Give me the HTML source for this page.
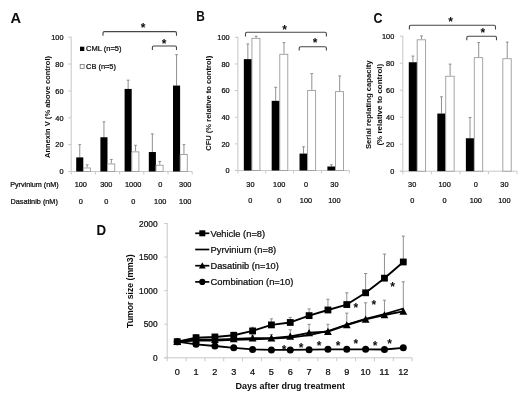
<!DOCTYPE html>
<html lang="en">
<head>
<meta charset="utf-8">
<title>Figure</title>
<style>
html,body{margin:0;padding:0;background:#fff;}
body{width:520px;height:405px;overflow:hidden;}
svg{display:block;font-family:'Liberation Sans', sans-serif;}
</style>
</head>
<body>
<svg width="520" height="405" viewBox="0 0 520 405">
<defs><filter id="soft" x="0" y="0" width="520" height="405" filterUnits="userSpaceOnUse"><feGaussianBlur stdDeviation="0.45"/></filter></defs>
<rect x="0" y="0" width="520" height="405" fill="#ffffff"/>
<g filter="url(#soft)">
<text x="10.50" y="22.90" font-size="15.5" text-anchor="start" font-weight="700" textLength="10.60" lengthAdjust="spacingAndGlyphs" fill="#0a0a0a">A</text>
<line x1="71.20" y1="36.70" x2="71.20" y2="172.00" stroke="#c8c8c8" stroke-width="1"/>
<line x1="68.20" y1="171.50" x2="192.20" y2="171.50" stroke="#c8c8c8" stroke-width="1"/>
<line x1="68.20" y1="171.50" x2="71.20" y2="171.50" stroke="#c8c8c8" stroke-width="1"/>
<text x="63.50" y="174.30" font-size="7.7" text-anchor="end" textLength="4.10" lengthAdjust="spacingAndGlyphs" fill="#0a0a0a" stroke="#0a0a0a" stroke-width="0.22">0</text>
<line x1="68.20" y1="144.64" x2="71.20" y2="144.64" stroke="#c8c8c8" stroke-width="1"/>
<text x="63.50" y="147.44" font-size="7.7" text-anchor="end" textLength="8.20" lengthAdjust="spacingAndGlyphs" fill="#0a0a0a" stroke="#0a0a0a" stroke-width="0.22">20</text>
<line x1="68.20" y1="117.78" x2="71.20" y2="117.78" stroke="#c8c8c8" stroke-width="1"/>
<text x="63.50" y="120.58" font-size="7.7" text-anchor="end" textLength="8.20" lengthAdjust="spacingAndGlyphs" fill="#0a0a0a" stroke="#0a0a0a" stroke-width="0.22">40</text>
<line x1="68.20" y1="90.92" x2="71.20" y2="90.92" stroke="#c8c8c8" stroke-width="1"/>
<text x="63.50" y="93.72" font-size="7.7" text-anchor="end" textLength="8.20" lengthAdjust="spacingAndGlyphs" fill="#0a0a0a" stroke="#0a0a0a" stroke-width="0.22">60</text>
<line x1="68.20" y1="64.06" x2="71.20" y2="64.06" stroke="#c8c8c8" stroke-width="1"/>
<text x="63.50" y="66.86" font-size="7.7" text-anchor="end" textLength="8.20" lengthAdjust="spacingAndGlyphs" fill="#0a0a0a" stroke="#0a0a0a" stroke-width="0.22">80</text>
<line x1="68.20" y1="37.20" x2="71.20" y2="37.20" stroke="#c8c8c8" stroke-width="1"/>
<text x="63.50" y="40.00" font-size="7.7" text-anchor="end" textLength="12.30" lengthAdjust="spacingAndGlyphs" fill="#0a0a0a" stroke="#0a0a0a" stroke-width="0.22">100</text>
<line x1="71.20" y1="171.50" x2="71.20" y2="174.50" stroke="#c8c8c8" stroke-width="1"/>
<line x1="95.40" y1="171.50" x2="95.40" y2="174.50" stroke="#c8c8c8" stroke-width="1"/>
<line x1="119.60" y1="171.50" x2="119.60" y2="174.50" stroke="#c8c8c8" stroke-width="1"/>
<line x1="143.80" y1="171.50" x2="143.80" y2="174.50" stroke="#c8c8c8" stroke-width="1"/>
<line x1="168.00" y1="171.50" x2="168.00" y2="174.50" stroke="#c8c8c8" stroke-width="1"/>
<line x1="192.20" y1="171.50" x2="192.20" y2="174.50" stroke="#c8c8c8" stroke-width="1"/>
<line x1="79.75" y1="157.40" x2="79.75" y2="144.64" stroke="#858585" stroke-width="0.9"/>
<line x1="78.35" y1="144.64" x2="81.15" y2="144.64" stroke="#858585" stroke-width="0.9"/>
<line x1="87.15" y1="167.47" x2="87.15" y2="164.78" stroke="#858585" stroke-width="0.9"/>
<line x1="85.75" y1="164.78" x2="88.55" y2="164.78" stroke="#858585" stroke-width="0.9"/>
<rect x="76.20" y="157.40" width="7.10" height="14.10" fill="#000"/>
<rect x="83.40" y="167.97" width="7.10" height="3.53" fill="#fff" stroke="#9c9c9c" stroke-width="0.9"/>
<line x1="103.95" y1="137.25" x2="103.95" y2="121.81" stroke="#858585" stroke-width="0.9"/>
<line x1="102.55" y1="121.81" x2="105.35" y2="121.81" stroke="#858585" stroke-width="0.9"/>
<line x1="111.35" y1="163.44" x2="111.35" y2="159.41" stroke="#858585" stroke-width="0.9"/>
<line x1="109.95" y1="159.41" x2="112.75" y2="159.41" stroke="#858585" stroke-width="0.9"/>
<rect x="100.40" y="137.25" width="7.10" height="34.25" fill="#000"/>
<rect x="107.60" y="163.94" width="7.10" height="7.56" fill="#fff" stroke="#9c9c9c" stroke-width="0.9"/>
<line x1="128.15" y1="88.91" x2="128.15" y2="80.18" stroke="#858585" stroke-width="0.9"/>
<line x1="126.75" y1="80.18" x2="129.55" y2="80.18" stroke="#858585" stroke-width="0.9"/>
<line x1="135.55" y1="151.35" x2="135.55" y2="145.31" stroke="#858585" stroke-width="0.9"/>
<line x1="134.15" y1="145.31" x2="136.95" y2="145.31" stroke="#858585" stroke-width="0.9"/>
<rect x="124.60" y="88.91" width="7.10" height="82.59" fill="#000"/>
<rect x="131.80" y="151.85" width="7.10" height="19.65" fill="#fff" stroke="#9c9c9c" stroke-width="0.9"/>
<line x1="152.35" y1="152.03" x2="152.35" y2="133.90" stroke="#858585" stroke-width="0.9"/>
<line x1="150.95" y1="133.90" x2="153.75" y2="133.90" stroke="#858585" stroke-width="0.9"/>
<line x1="159.75" y1="164.78" x2="159.75" y2="161.43" stroke="#858585" stroke-width="0.9"/>
<line x1="158.35" y1="161.43" x2="161.15" y2="161.43" stroke="#858585" stroke-width="0.9"/>
<rect x="148.80" y="152.03" width="7.10" height="19.47" fill="#000"/>
<rect x="156.00" y="165.28" width="7.10" height="6.22" fill="#fff" stroke="#9c9c9c" stroke-width="0.9"/>
<line x1="176.55" y1="85.55" x2="176.55" y2="54.66" stroke="#858585" stroke-width="0.9"/>
<line x1="175.15" y1="54.66" x2="177.95" y2="54.66" stroke="#858585" stroke-width="0.9"/>
<line x1="183.95" y1="154.04" x2="183.95" y2="144.64" stroke="#858585" stroke-width="0.9"/>
<line x1="182.55" y1="144.64" x2="185.35" y2="144.64" stroke="#858585" stroke-width="0.9"/>
<rect x="173.00" y="85.55" width="7.10" height="85.95" fill="#000"/>
<rect x="180.20" y="154.54" width="7.10" height="16.96" fill="#fff" stroke="#9c9c9c" stroke-width="0.9"/>
<text x="80.80" y="187.00" font-size="7.7" text-anchor="middle" textLength="12.30" lengthAdjust="spacingAndGlyphs" fill="#0a0a0a" stroke="#0a0a0a" stroke-width="0.22">100</text>
<text x="80.80" y="204.00" font-size="7.7" text-anchor="middle" textLength="4.10" lengthAdjust="spacingAndGlyphs" fill="#0a0a0a" stroke="#0a0a0a" stroke-width="0.22">0</text>
<text x="106.30" y="187.00" font-size="7.7" text-anchor="middle" textLength="12.30" lengthAdjust="spacingAndGlyphs" fill="#0a0a0a" stroke="#0a0a0a" stroke-width="0.22">300</text>
<text x="106.30" y="204.00" font-size="7.7" text-anchor="middle" textLength="4.10" lengthAdjust="spacingAndGlyphs" fill="#0a0a0a" stroke="#0a0a0a" stroke-width="0.22">0</text>
<text x="133.20" y="187.00" font-size="7.7" text-anchor="middle" textLength="16.40" lengthAdjust="spacingAndGlyphs" fill="#0a0a0a" stroke="#0a0a0a" stroke-width="0.22">1000</text>
<text x="133.20" y="204.00" font-size="7.7" text-anchor="middle" textLength="4.10" lengthAdjust="spacingAndGlyphs" fill="#0a0a0a" stroke="#0a0a0a" stroke-width="0.22">0</text>
<text x="160.20" y="187.00" font-size="7.7" text-anchor="middle" textLength="4.10" lengthAdjust="spacingAndGlyphs" fill="#0a0a0a" stroke="#0a0a0a" stroke-width="0.22">0</text>
<text x="160.20" y="204.00" font-size="7.7" text-anchor="middle" textLength="12.30" lengthAdjust="spacingAndGlyphs" fill="#0a0a0a" stroke="#0a0a0a" stroke-width="0.22">100</text>
<text x="185.20" y="187.00" font-size="7.7" text-anchor="middle" textLength="12.30" lengthAdjust="spacingAndGlyphs" fill="#0a0a0a" stroke="#0a0a0a" stroke-width="0.22">300</text>
<text x="185.20" y="204.00" font-size="7.7" text-anchor="middle" textLength="12.30" lengthAdjust="spacingAndGlyphs" fill="#0a0a0a" stroke="#0a0a0a" stroke-width="0.22">100</text>
<text x="10.20" y="186.90" font-size="7.7" text-anchor="start" textLength="48.50" lengthAdjust="spacingAndGlyphs" fill="#0a0a0a" stroke="#0a0a0a" stroke-width="0.22">Pyrvinium (nM)</text>
<text x="10.40" y="203.90" font-size="7.7" text-anchor="start" textLength="47.50" lengthAdjust="spacingAndGlyphs" fill="#0a0a0a" stroke="#0a0a0a" stroke-width="0.22">Dasatinib (nM)</text>
<rect x="80.00" y="46.70" width="4.30" height="4.30" fill="#000"/>
<text x="86.00" y="51.40" font-size="7.7" text-anchor="start" textLength="35.50" lengthAdjust="spacingAndGlyphs" fill="#0a0a0a" stroke="#0a0a0a" stroke-width="0.22">CML (n=5)</text>
<rect x="80.20" y="64.50" width="3.90" height="3.90" fill="#fff" stroke="#777" stroke-width="0.8"/>
<text x="86.00" y="69.00" font-size="7.7" text-anchor="start" textLength="30.00" lengthAdjust="spacingAndGlyphs" fill="#0a0a0a" stroke="#0a0a0a" stroke-width="0.22">CB (n=5)</text>
<text x="50.00" y="107.00" font-size="7.2" text-anchor="middle" font-weight="700" textLength="102.00" lengthAdjust="spacingAndGlyphs" transform="rotate(-90 50.00 107.00)" fill="#0a0a0a">Annexin V (% above control)</text>
<path d="M103.00 35.80 V33.10 Q103.00 31.60 104.50 31.60 H175.00 Q176.50 31.60 176.50 33.10 V35.80" fill="none" stroke="#444" stroke-width="1.1"/>
<text x="143.00" y="32.00" font-size="12" text-anchor="middle" font-weight="700" fill="#0a0a0a">*</text>
<path d="M152.40 50.00 V47.50 Q152.40 46.00 153.90 46.00 H175.00 Q176.50 46.00 176.50 47.50 V50.00" fill="none" stroke="#444" stroke-width="1.1"/>
<text x="164.00" y="47.50" font-size="12" text-anchor="middle" font-weight="700" fill="#0a0a0a">*</text>
<text x="196.30" y="20.80" font-size="15" text-anchor="start" font-weight="700" textLength="8.60" lengthAdjust="spacingAndGlyphs" fill="#0a0a0a">B</text>
<line x1="237.90" y1="36.80" x2="237.90" y2="171.00" stroke="#c8c8c8" stroke-width="1"/>
<line x1="234.90" y1="170.50" x2="349.30" y2="170.50" stroke="#c8c8c8" stroke-width="1"/>
<line x1="234.90" y1="170.50" x2="237.90" y2="170.50" stroke="#c8c8c8" stroke-width="1"/>
<text x="229.60" y="173.30" font-size="7.7" text-anchor="end" textLength="4.10" lengthAdjust="spacingAndGlyphs" fill="#0a0a0a" stroke="#0a0a0a" stroke-width="0.22">0</text>
<line x1="234.90" y1="143.86" x2="237.90" y2="143.86" stroke="#c8c8c8" stroke-width="1"/>
<text x="229.60" y="146.66" font-size="7.7" text-anchor="end" textLength="8.20" lengthAdjust="spacingAndGlyphs" fill="#0a0a0a" stroke="#0a0a0a" stroke-width="0.22">20</text>
<line x1="234.90" y1="117.22" x2="237.90" y2="117.22" stroke="#c8c8c8" stroke-width="1"/>
<text x="229.60" y="120.02" font-size="7.7" text-anchor="end" textLength="8.20" lengthAdjust="spacingAndGlyphs" fill="#0a0a0a" stroke="#0a0a0a" stroke-width="0.22">40</text>
<line x1="234.90" y1="90.58" x2="237.90" y2="90.58" stroke="#c8c8c8" stroke-width="1"/>
<text x="229.60" y="93.38" font-size="7.7" text-anchor="end" textLength="8.20" lengthAdjust="spacingAndGlyphs" fill="#0a0a0a" stroke="#0a0a0a" stroke-width="0.22">60</text>
<line x1="234.90" y1="63.94" x2="237.90" y2="63.94" stroke="#c8c8c8" stroke-width="1"/>
<text x="229.60" y="66.74" font-size="7.7" text-anchor="end" textLength="8.20" lengthAdjust="spacingAndGlyphs" fill="#0a0a0a" stroke="#0a0a0a" stroke-width="0.22">80</text>
<line x1="234.90" y1="37.30" x2="237.90" y2="37.30" stroke="#c8c8c8" stroke-width="1"/>
<text x="229.60" y="40.10" font-size="7.7" text-anchor="end" textLength="12.30" lengthAdjust="spacingAndGlyphs" fill="#0a0a0a" stroke="#0a0a0a" stroke-width="0.22">100</text>
<line x1="237.90" y1="170.50" x2="237.90" y2="173.50" stroke="#c8c8c8" stroke-width="1"/>
<line x1="265.75" y1="170.50" x2="265.75" y2="173.50" stroke="#c8c8c8" stroke-width="1"/>
<line x1="293.60" y1="170.50" x2="293.60" y2="173.50" stroke="#c8c8c8" stroke-width="1"/>
<line x1="321.45" y1="170.50" x2="321.45" y2="173.50" stroke="#c8c8c8" stroke-width="1"/>
<line x1="349.30" y1="170.50" x2="349.30" y2="173.50" stroke="#c8c8c8" stroke-width="1"/>
<line x1="247.83" y1="59.14" x2="247.83" y2="43.96" stroke="#858585" stroke-width="0.9"/>
<line x1="246.43" y1="43.96" x2="249.23" y2="43.96" stroke="#858585" stroke-width="0.9"/>
<line x1="256.12" y1="37.83" x2="256.12" y2="36.23" stroke="#858585" stroke-width="0.9"/>
<line x1="254.72" y1="36.23" x2="257.52" y2="36.23" stroke="#858585" stroke-width="0.9"/>
<rect x="243.83" y="59.14" width="8.00" height="111.36" fill="#000"/>
<rect x="251.93" y="38.33" width="8.00" height="132.17" fill="#fff" stroke="#9c9c9c" stroke-width="0.9"/>
<line x1="275.68" y1="100.84" x2="275.68" y2="87.25" stroke="#858585" stroke-width="0.9"/>
<line x1="274.28" y1="87.25" x2="277.07" y2="87.25" stroke="#858585" stroke-width="0.9"/>
<line x1="283.98" y1="53.82" x2="283.98" y2="42.63" stroke="#858585" stroke-width="0.9"/>
<line x1="282.58" y1="42.63" x2="285.38" y2="42.63" stroke="#858585" stroke-width="0.9"/>
<rect x="271.68" y="100.84" width="8.00" height="69.66" fill="#000"/>
<rect x="279.78" y="54.32" width="8.00" height="116.18" fill="#fff" stroke="#9c9c9c" stroke-width="0.9"/>
<line x1="303.52" y1="153.58" x2="303.52" y2="146.79" stroke="#858585" stroke-width="0.9"/>
<line x1="302.12" y1="146.79" x2="304.92" y2="146.79" stroke="#858585" stroke-width="0.9"/>
<line x1="311.82" y1="89.91" x2="311.82" y2="73.66" stroke="#858585" stroke-width="0.9"/>
<line x1="310.43" y1="73.66" x2="313.22" y2="73.66" stroke="#858585" stroke-width="0.9"/>
<rect x="299.52" y="153.58" width="8.00" height="16.92" fill="#000"/>
<rect x="307.62" y="90.41" width="8.00" height="80.09" fill="#fff" stroke="#9c9c9c" stroke-width="0.9"/>
<line x1="331.38" y1="166.50" x2="331.38" y2="164.77" stroke="#858585" stroke-width="0.9"/>
<line x1="329.98" y1="164.77" x2="332.77" y2="164.77" stroke="#858585" stroke-width="0.9"/>
<line x1="339.68" y1="91.11" x2="339.68" y2="75.93" stroke="#858585" stroke-width="0.9"/>
<line x1="338.28" y1="75.93" x2="341.07" y2="75.93" stroke="#858585" stroke-width="0.9"/>
<rect x="327.38" y="166.50" width="8.00" height="4.00" fill="#000"/>
<rect x="335.48" y="91.61" width="8.00" height="78.89" fill="#fff" stroke="#9c9c9c" stroke-width="0.9"/>
<text x="250.40" y="187.40" font-size="7.7" text-anchor="middle" textLength="8.20" lengthAdjust="spacingAndGlyphs" fill="#0a0a0a" stroke="#0a0a0a" stroke-width="0.22">30</text>
<text x="250.40" y="203.30" font-size="7.7" text-anchor="middle" textLength="4.10" lengthAdjust="spacingAndGlyphs" fill="#0a0a0a" stroke="#0a0a0a" stroke-width="0.22">0</text>
<text x="279.20" y="187.40" font-size="7.7" text-anchor="middle" textLength="12.30" lengthAdjust="spacingAndGlyphs" fill="#0a0a0a" stroke="#0a0a0a" stroke-width="0.22">100</text>
<text x="279.20" y="203.30" font-size="7.7" text-anchor="middle" textLength="4.10" lengthAdjust="spacingAndGlyphs" fill="#0a0a0a" stroke="#0a0a0a" stroke-width="0.22">0</text>
<text x="306.00" y="187.40" font-size="7.7" text-anchor="middle" textLength="4.10" lengthAdjust="spacingAndGlyphs" fill="#0a0a0a" stroke="#0a0a0a" stroke-width="0.22">0</text>
<text x="306.00" y="203.30" font-size="7.7" text-anchor="middle" textLength="12.30" lengthAdjust="spacingAndGlyphs" fill="#0a0a0a" stroke="#0a0a0a" stroke-width="0.22">100</text>
<text x="334.40" y="187.40" font-size="7.7" text-anchor="middle" textLength="8.20" lengthAdjust="spacingAndGlyphs" fill="#0a0a0a" stroke="#0a0a0a" stroke-width="0.22">30</text>
<text x="334.40" y="203.30" font-size="7.7" text-anchor="middle" textLength="12.30" lengthAdjust="spacingAndGlyphs" fill="#0a0a0a" stroke="#0a0a0a" stroke-width="0.22">100</text>
<text x="211.40" y="103.30" font-size="7.2" text-anchor="middle" font-weight="700" textLength="95.00" lengthAdjust="spacingAndGlyphs" transform="rotate(-90 211.40 103.30)" fill="#0a0a0a">CFU (% relative to control)</text>
<path d="M245.50 36.40 V33.70 Q245.50 32.20 247.00 32.20 H324.90 Q326.40 32.20 326.40 33.70 V36.40" fill="none" stroke="#444" stroke-width="1.1"/>
<text x="284.60" y="33.50" font-size="12" text-anchor="middle" font-weight="700" fill="#0a0a0a">*</text>
<path d="M299.20 50.60 V48.20 Q299.20 46.70 300.70 46.70 H324.90 Q326.40 46.70 326.40 48.20 V50.60" fill="none" stroke="#444" stroke-width="1.1"/>
<text x="315.20" y="46.80" font-size="12" text-anchor="middle" font-weight="700" fill="#0a0a0a">*</text>
<text x="373.60" y="23.00" font-size="15" text-anchor="start" font-weight="700" textLength="9.00" lengthAdjust="spacingAndGlyphs" fill="#0a0a0a">C</text>
<line x1="402.80" y1="35.70" x2="402.80" y2="171.70" stroke="#c8c8c8" stroke-width="1"/>
<line x1="399.80" y1="171.20" x2="517.00" y2="171.20" stroke="#c8c8c8" stroke-width="1"/>
<line x1="399.80" y1="171.20" x2="402.80" y2="171.20" stroke="#c8c8c8" stroke-width="1"/>
<text x="394.30" y="174.00" font-size="7.7" text-anchor="end" textLength="4.10" lengthAdjust="spacingAndGlyphs" fill="#0a0a0a" stroke="#0a0a0a" stroke-width="0.22">0</text>
<line x1="399.80" y1="144.20" x2="402.80" y2="144.20" stroke="#c8c8c8" stroke-width="1"/>
<text x="394.30" y="147.00" font-size="7.7" text-anchor="end" textLength="8.20" lengthAdjust="spacingAndGlyphs" fill="#0a0a0a" stroke="#0a0a0a" stroke-width="0.22">20</text>
<line x1="399.80" y1="117.20" x2="402.80" y2="117.20" stroke="#c8c8c8" stroke-width="1"/>
<text x="394.30" y="120.00" font-size="7.7" text-anchor="end" textLength="8.20" lengthAdjust="spacingAndGlyphs" fill="#0a0a0a" stroke="#0a0a0a" stroke-width="0.22">40</text>
<line x1="399.80" y1="90.20" x2="402.80" y2="90.20" stroke="#c8c8c8" stroke-width="1"/>
<text x="394.30" y="93.00" font-size="7.7" text-anchor="end" textLength="8.20" lengthAdjust="spacingAndGlyphs" fill="#0a0a0a" stroke="#0a0a0a" stroke-width="0.22">60</text>
<line x1="399.80" y1="63.20" x2="402.80" y2="63.20" stroke="#c8c8c8" stroke-width="1"/>
<text x="394.30" y="66.00" font-size="7.7" text-anchor="end" textLength="8.20" lengthAdjust="spacingAndGlyphs" fill="#0a0a0a" stroke="#0a0a0a" stroke-width="0.22">80</text>
<line x1="399.80" y1="36.20" x2="402.80" y2="36.20" stroke="#c8c8c8" stroke-width="1"/>
<text x="394.30" y="39.00" font-size="7.7" text-anchor="end" textLength="12.30" lengthAdjust="spacingAndGlyphs" fill="#0a0a0a" stroke="#0a0a0a" stroke-width="0.22">100</text>
<line x1="402.80" y1="171.20" x2="402.80" y2="174.20" stroke="#c8c8c8" stroke-width="1"/>
<line x1="431.35" y1="171.20" x2="431.35" y2="174.20" stroke="#c8c8c8" stroke-width="1"/>
<line x1="459.90" y1="171.20" x2="459.90" y2="174.20" stroke="#c8c8c8" stroke-width="1"/>
<line x1="488.45" y1="171.20" x2="488.45" y2="174.20" stroke="#c8c8c8" stroke-width="1"/>
<line x1="517.00" y1="171.20" x2="517.00" y2="174.20" stroke="#c8c8c8" stroke-width="1"/>
<line x1="412.93" y1="62.25" x2="412.93" y2="56.04" stroke="#858585" stroke-width="0.9"/>
<line x1="411.53" y1="56.04" x2="414.32" y2="56.04" stroke="#858585" stroke-width="0.9"/>
<line x1="421.57" y1="39.30" x2="421.57" y2="35.93" stroke="#858585" stroke-width="0.9"/>
<line x1="420.18" y1="35.93" x2="422.97" y2="35.93" stroke="#858585" stroke-width="0.9"/>
<rect x="408.77" y="62.25" width="8.30" height="108.95" fill="#000"/>
<rect x="417.18" y="39.80" width="8.40" height="131.40" fill="#fff" stroke="#9c9c9c" stroke-width="0.9"/>
<line x1="441.48" y1="113.55" x2="441.48" y2="96.81" stroke="#858585" stroke-width="0.9"/>
<line x1="440.08" y1="96.81" x2="442.88" y2="96.81" stroke="#858585" stroke-width="0.9"/>
<line x1="450.12" y1="75.75" x2="450.12" y2="64.14" stroke="#858585" stroke-width="0.9"/>
<line x1="448.73" y1="64.14" x2="451.52" y2="64.14" stroke="#858585" stroke-width="0.9"/>
<rect x="437.32" y="113.55" width="8.30" height="57.65" fill="#000"/>
<rect x="445.73" y="76.25" width="8.40" height="94.95" fill="#fff" stroke="#9c9c9c" stroke-width="0.9"/>
<line x1="470.03" y1="138.26" x2="470.03" y2="117.47" stroke="#858585" stroke-width="0.9"/>
<line x1="468.63" y1="117.47" x2="471.43" y2="117.47" stroke="#858585" stroke-width="0.9"/>
<line x1="478.68" y1="57.12" x2="478.68" y2="42.54" stroke="#858585" stroke-width="0.9"/>
<line x1="477.28" y1="42.54" x2="480.07" y2="42.54" stroke="#858585" stroke-width="0.9"/>
<rect x="465.88" y="138.26" width="8.30" height="32.94" fill="#000"/>
<rect x="474.28" y="57.62" width="8.40" height="113.58" fill="#fff" stroke="#9c9c9c" stroke-width="0.9"/>
<line x1="507.23" y1="58.20" x2="507.23" y2="42.14" stroke="#858585" stroke-width="0.9"/>
<line x1="505.83" y1="42.14" x2="508.62" y2="42.14" stroke="#858585" stroke-width="0.9"/>
<rect x="502.83" y="58.70" width="8.40" height="112.50" fill="#fff" stroke="#9c9c9c" stroke-width="0.9"/>
<text x="412.20" y="187.00" font-size="7.7" text-anchor="middle" textLength="8.20" lengthAdjust="spacingAndGlyphs" fill="#0a0a0a" stroke="#0a0a0a" stroke-width="0.22">30</text>
<text x="412.20" y="202.70" font-size="7.7" text-anchor="middle" textLength="4.10" lengthAdjust="spacingAndGlyphs" fill="#0a0a0a" stroke="#0a0a0a" stroke-width="0.22">0</text>
<text x="444.60" y="187.00" font-size="7.7" text-anchor="middle" textLength="12.30" lengthAdjust="spacingAndGlyphs" fill="#0a0a0a" stroke="#0a0a0a" stroke-width="0.22">100</text>
<text x="444.60" y="202.70" font-size="7.7" text-anchor="middle" textLength="4.10" lengthAdjust="spacingAndGlyphs" fill="#0a0a0a" stroke="#0a0a0a" stroke-width="0.22">0</text>
<text x="475.80" y="187.00" font-size="7.7" text-anchor="middle" textLength="4.10" lengthAdjust="spacingAndGlyphs" fill="#0a0a0a" stroke="#0a0a0a" stroke-width="0.22">0</text>
<text x="475.80" y="202.70" font-size="7.7" text-anchor="middle" textLength="12.30" lengthAdjust="spacingAndGlyphs" fill="#0a0a0a" stroke="#0a0a0a" stroke-width="0.22">100</text>
<text x="504.40" y="187.00" font-size="7.7" text-anchor="middle" textLength="8.20" lengthAdjust="spacingAndGlyphs" fill="#0a0a0a" stroke="#0a0a0a" stroke-width="0.22">30</text>
<text x="504.40" y="202.70" font-size="7.7" text-anchor="middle" textLength="12.30" lengthAdjust="spacingAndGlyphs" fill="#0a0a0a" stroke="#0a0a0a" stroke-width="0.22">100</text>
<text x="370.80" y="104.70" font-size="7.2" text-anchor="middle" font-weight="700" textLength="88.70" lengthAdjust="spacingAndGlyphs" transform="rotate(-90 370.80 104.70)" fill="#0a0a0a">Serial replating capacity</text>
<text x="381.60" y="104.70" font-size="7.2" text-anchor="middle" font-weight="700" textLength="81.70" lengthAdjust="spacingAndGlyphs" transform="rotate(-90 381.60 104.70)" fill="#0a0a0a">(% relative  to control)</text>
<path d="M409.40 29.40 V26.80 Q409.40 25.30 410.90 25.30 H494.00 Q495.50 25.30 495.50 26.80 V29.40" fill="none" stroke="#444" stroke-width="1.1"/>
<text x="450.50" y="25.90" font-size="12" text-anchor="middle" font-weight="700" fill="#0a0a0a">*</text>
<path d="M466.80 40.20 V37.70 Q466.80 36.20 468.30 36.20 H495.00 Q496.50 36.20 496.50 37.70 V40.20" fill="none" stroke="#444" stroke-width="1.1"/>
<text x="482.80" y="37.20" font-size="12" text-anchor="middle" font-weight="700" fill="#0a0a0a">*</text>
<text x="96.60" y="235.00" font-size="15" text-anchor="start" font-weight="700" textLength="9.60" lengthAdjust="spacingAndGlyphs" fill="#0a0a0a">D</text>
<line x1="167.20" y1="223.00" x2="167.20" y2="358.30" stroke="#c8c8c8" stroke-width="1"/>
<line x1="164.20" y1="357.80" x2="412.12" y2="357.80" stroke="#c8c8c8" stroke-width="1"/>
<line x1="164.20" y1="357.80" x2="167.20" y2="357.80" stroke="#c8c8c8" stroke-width="1"/>
<text x="157.60" y="361.00" font-size="8.8" text-anchor="end" textLength="4.65" lengthAdjust="spacingAndGlyphs" fill="#0a0a0a" stroke="#0a0a0a" stroke-width="0.22">0</text>
<line x1="164.20" y1="324.23" x2="167.20" y2="324.23" stroke="#c8c8c8" stroke-width="1"/>
<text x="157.60" y="327.43" font-size="8.8" text-anchor="end" textLength="13.95" lengthAdjust="spacingAndGlyphs" fill="#0a0a0a" stroke="#0a0a0a" stroke-width="0.22">500</text>
<line x1="164.20" y1="290.65" x2="167.20" y2="290.65" stroke="#c8c8c8" stroke-width="1"/>
<text x="157.60" y="293.85" font-size="8.8" text-anchor="end" textLength="18.60" lengthAdjust="spacingAndGlyphs" fill="#0a0a0a" stroke="#0a0a0a" stroke-width="0.22">1000</text>
<line x1="164.20" y1="257.07" x2="167.20" y2="257.07" stroke="#c8c8c8" stroke-width="1"/>
<text x="157.60" y="260.27" font-size="8.8" text-anchor="end" textLength="18.60" lengthAdjust="spacingAndGlyphs" fill="#0a0a0a" stroke="#0a0a0a" stroke-width="0.22">1500</text>
<line x1="164.20" y1="223.50" x2="167.20" y2="223.50" stroke="#c8c8c8" stroke-width="1"/>
<text x="157.60" y="226.70" font-size="8.8" text-anchor="end" textLength="18.60" lengthAdjust="spacingAndGlyphs" fill="#0a0a0a" stroke="#0a0a0a" stroke-width="0.22">2000</text>
<line x1="167.20" y1="357.80" x2="167.20" y2="361.30" stroke="#c8c8c8" stroke-width="1"/>
<line x1="186.04" y1="357.80" x2="186.04" y2="361.30" stroke="#c8c8c8" stroke-width="1"/>
<line x1="204.88" y1="357.80" x2="204.88" y2="361.30" stroke="#c8c8c8" stroke-width="1"/>
<line x1="223.72" y1="357.80" x2="223.72" y2="361.30" stroke="#c8c8c8" stroke-width="1"/>
<line x1="242.56" y1="357.80" x2="242.56" y2="361.30" stroke="#c8c8c8" stroke-width="1"/>
<line x1="261.40" y1="357.80" x2="261.40" y2="361.30" stroke="#c8c8c8" stroke-width="1"/>
<line x1="280.24" y1="357.80" x2="280.24" y2="361.30" stroke="#c8c8c8" stroke-width="1"/>
<line x1="299.08" y1="357.80" x2="299.08" y2="361.30" stroke="#c8c8c8" stroke-width="1"/>
<line x1="317.92" y1="357.80" x2="317.92" y2="361.30" stroke="#c8c8c8" stroke-width="1"/>
<line x1="336.76" y1="357.80" x2="336.76" y2="361.30" stroke="#c8c8c8" stroke-width="1"/>
<line x1="355.60" y1="357.80" x2="355.60" y2="361.30" stroke="#c8c8c8" stroke-width="1"/>
<line x1="374.44" y1="357.80" x2="374.44" y2="361.30" stroke="#c8c8c8" stroke-width="1"/>
<line x1="393.28" y1="357.80" x2="393.28" y2="361.30" stroke="#c8c8c8" stroke-width="1"/>
<line x1="412.12" y1="357.80" x2="412.12" y2="361.30" stroke="#c8c8c8" stroke-width="1"/>
<text x="177.22" y="374.70" font-size="9.5" text-anchor="middle" textLength="5.10" lengthAdjust="spacingAndGlyphs" fill="#0a0a0a" stroke="#0a0a0a" stroke-width="0.22">0</text>
<text x="196.06" y="374.70" font-size="9.5" text-anchor="middle" textLength="5.10" lengthAdjust="spacingAndGlyphs" fill="#0a0a0a" stroke="#0a0a0a" stroke-width="0.22">1</text>
<text x="214.90" y="374.70" font-size="9.5" text-anchor="middle" textLength="5.10" lengthAdjust="spacingAndGlyphs" fill="#0a0a0a" stroke="#0a0a0a" stroke-width="0.22">2</text>
<text x="233.74" y="374.70" font-size="9.5" text-anchor="middle" textLength="5.10" lengthAdjust="spacingAndGlyphs" fill="#0a0a0a" stroke="#0a0a0a" stroke-width="0.22">3</text>
<text x="252.58" y="374.70" font-size="9.5" text-anchor="middle" textLength="5.10" lengthAdjust="spacingAndGlyphs" fill="#0a0a0a" stroke="#0a0a0a" stroke-width="0.22">4</text>
<text x="271.42" y="374.70" font-size="9.5" text-anchor="middle" textLength="5.10" lengthAdjust="spacingAndGlyphs" fill="#0a0a0a" stroke="#0a0a0a" stroke-width="0.22">5</text>
<text x="290.26" y="374.70" font-size="9.5" text-anchor="middle" textLength="5.10" lengthAdjust="spacingAndGlyphs" fill="#0a0a0a" stroke="#0a0a0a" stroke-width="0.22">6</text>
<text x="309.10" y="374.70" font-size="9.5" text-anchor="middle" textLength="5.10" lengthAdjust="spacingAndGlyphs" fill="#0a0a0a" stroke="#0a0a0a" stroke-width="0.22">7</text>
<text x="327.94" y="374.70" font-size="9.5" text-anchor="middle" textLength="5.10" lengthAdjust="spacingAndGlyphs" fill="#0a0a0a" stroke="#0a0a0a" stroke-width="0.22">8</text>
<text x="346.78" y="374.70" font-size="9.5" text-anchor="middle" textLength="5.10" lengthAdjust="spacingAndGlyphs" fill="#0a0a0a" stroke="#0a0a0a" stroke-width="0.22">9</text>
<text x="365.62" y="374.70" font-size="9.5" text-anchor="middle" textLength="10.20" lengthAdjust="spacingAndGlyphs" fill="#0a0a0a" stroke="#0a0a0a" stroke-width="0.22">10</text>
<text x="384.46" y="374.70" font-size="9.5" text-anchor="middle" textLength="10.20" lengthAdjust="spacingAndGlyphs" fill="#0a0a0a" stroke="#0a0a0a" stroke-width="0.22">11</text>
<text x="403.30" y="374.70" font-size="9.5" text-anchor="middle" textLength="10.20" lengthAdjust="spacingAndGlyphs" fill="#0a0a0a" stroke="#0a0a0a" stroke-width="0.22">12</text>
<line x1="196.06" y1="337.66" x2="196.06" y2="334.63" stroke="#858585" stroke-width="0.9"/>
<line x1="194.46" y1="334.63" x2="197.66" y2="334.63" stroke="#858585" stroke-width="0.9"/>
<line x1="196.06" y1="339.54" x2="196.06" y2="337.52" stroke="#858585" stroke-width="0.9"/>
<line x1="194.46" y1="337.52" x2="197.66" y2="337.52" stroke="#858585" stroke-width="0.9"/>
<line x1="214.90" y1="336.98" x2="214.90" y2="334.30" stroke="#858585" stroke-width="0.9"/>
<line x1="213.30" y1="334.30" x2="216.50" y2="334.30" stroke="#858585" stroke-width="0.9"/>
<line x1="214.90" y1="339.80" x2="214.90" y2="337.79" stroke="#858585" stroke-width="0.9"/>
<line x1="213.30" y1="337.79" x2="216.50" y2="337.79" stroke="#858585" stroke-width="0.9"/>
<line x1="233.74" y1="335.30" x2="233.74" y2="332.28" stroke="#858585" stroke-width="0.9"/>
<line x1="232.14" y1="332.28" x2="235.34" y2="332.28" stroke="#858585" stroke-width="0.9"/>
<line x1="233.74" y1="339.00" x2="233.74" y2="336.31" stroke="#858585" stroke-width="0.9"/>
<line x1="232.14" y1="336.31" x2="235.34" y2="336.31" stroke="#858585" stroke-width="0.9"/>
<line x1="252.58" y1="330.94" x2="252.58" y2="327.25" stroke="#858585" stroke-width="0.9"/>
<line x1="250.98" y1="327.25" x2="254.18" y2="327.25" stroke="#858585" stroke-width="0.9"/>
<line x1="252.58" y1="338.19" x2="252.58" y2="335.17" stroke="#858585" stroke-width="0.9"/>
<line x1="250.98" y1="335.17" x2="254.18" y2="335.17" stroke="#858585" stroke-width="0.9"/>
<line x1="271.42" y1="324.90" x2="271.42" y2="318.85" stroke="#858585" stroke-width="0.9"/>
<line x1="269.82" y1="318.85" x2="273.02" y2="318.85" stroke="#858585" stroke-width="0.9"/>
<line x1="271.42" y1="338.19" x2="271.42" y2="334.50" stroke="#858585" stroke-width="0.9"/>
<line x1="269.82" y1="334.50" x2="273.02" y2="334.50" stroke="#858585" stroke-width="0.9"/>
<line x1="290.26" y1="322.48" x2="290.26" y2="317.44" stroke="#858585" stroke-width="0.9"/>
<line x1="288.66" y1="317.44" x2="291.86" y2="317.44" stroke="#858585" stroke-width="0.9"/>
<line x1="290.26" y1="336.51" x2="290.26" y2="329.80" stroke="#858585" stroke-width="0.9"/>
<line x1="288.66" y1="329.80" x2="291.86" y2="329.80" stroke="#858585" stroke-width="0.9"/>
<line x1="309.10" y1="315.63" x2="309.10" y2="308.91" stroke="#858585" stroke-width="0.9"/>
<line x1="307.50" y1="308.91" x2="310.70" y2="308.91" stroke="#858585" stroke-width="0.9"/>
<line x1="309.10" y1="332.82" x2="309.10" y2="324.36" stroke="#858585" stroke-width="0.9"/>
<line x1="307.50" y1="324.36" x2="310.70" y2="324.36" stroke="#858585" stroke-width="0.9"/>
<line x1="327.94" y1="309.99" x2="327.94" y2="299.25" stroke="#858585" stroke-width="0.9"/>
<line x1="326.34" y1="299.25" x2="329.54" y2="299.25" stroke="#858585" stroke-width="0.9"/>
<line x1="327.94" y1="331.68" x2="327.94" y2="324.29" stroke="#858585" stroke-width="0.9"/>
<line x1="326.34" y1="324.29" x2="329.54" y2="324.29" stroke="#858585" stroke-width="0.9"/>
<line x1="346.78" y1="304.55" x2="346.78" y2="292.80" stroke="#858585" stroke-width="0.9"/>
<line x1="345.18" y1="292.80" x2="348.38" y2="292.80" stroke="#858585" stroke-width="0.9"/>
<line x1="346.78" y1="325.03" x2="346.78" y2="313.15" stroke="#858585" stroke-width="0.9"/>
<line x1="345.18" y1="313.15" x2="348.38" y2="313.15" stroke="#858585" stroke-width="0.9"/>
<line x1="365.62" y1="292.80" x2="365.62" y2="273.53" stroke="#858585" stroke-width="0.9"/>
<line x1="364.02" y1="273.53" x2="367.22" y2="273.53" stroke="#858585" stroke-width="0.9"/>
<line x1="365.62" y1="319.39" x2="365.62" y2="302.80" stroke="#858585" stroke-width="0.9"/>
<line x1="364.02" y1="302.80" x2="367.22" y2="302.80" stroke="#858585" stroke-width="0.9"/>
<line x1="384.46" y1="278.16" x2="384.46" y2="254.05" stroke="#858585" stroke-width="0.9"/>
<line x1="382.86" y1="254.05" x2="386.06" y2="254.05" stroke="#858585" stroke-width="0.9"/>
<line x1="384.46" y1="315.03" x2="384.46" y2="300.25" stroke="#858585" stroke-width="0.9"/>
<line x1="382.86" y1="300.25" x2="386.06" y2="300.25" stroke="#858585" stroke-width="0.9"/>
<line x1="403.30" y1="261.98" x2="403.30" y2="236.12" stroke="#858585" stroke-width="0.9"/>
<line x1="401.70" y1="236.12" x2="404.90" y2="236.12" stroke="#858585" stroke-width="0.9"/>
<line x1="403.30" y1="311.33" x2="403.30" y2="281.79" stroke="#858585" stroke-width="0.9"/>
<line x1="401.70" y1="281.79" x2="404.90" y2="281.79" stroke="#858585" stroke-width="0.9"/>
<polyline points="177.22,341.68 196.06,340.68 214.90,340.68 233.74,340.01 252.58,339.33 271.42,338.66 290.26,337.66 309.10,335.10 327.94,330.94 346.78,324.56 365.62,318.85 384.46,314.15 403.30,308.44" fill="none" stroke="#000" stroke-width="1.7" stroke-linejoin="round"/>
<polyline points="177.22,341.68 196.06,339.54 214.90,339.80 233.74,339.00 252.58,338.19 271.42,338.19 290.26,336.51 309.10,332.82 327.94,331.68 346.78,325.03 365.62,319.39 384.46,315.03 403.30,311.33" fill="none" stroke="#000" stroke-width="1.9" stroke-linejoin="round"/>
<polyline points="177.22,341.68 196.06,337.66 214.90,336.98 233.74,335.30 252.58,330.94 271.42,324.90 290.26,322.48 309.10,315.63 327.94,309.99 346.78,304.55 365.62,292.80 384.46,278.16 403.30,261.98" fill="none" stroke="#000" stroke-width="1.9" stroke-linejoin="round"/>
<polyline points="177.22,341.68 196.06,344.37 214.90,345.98 233.74,347.86 252.58,349.41 271.42,349.88 290.26,349.88 309.10,349.67 327.94,349.34 346.78,349.34 365.62,349.34 384.46,349.54 403.30,347.86" fill="none" stroke="#000" stroke-width="1.9" stroke-linejoin="round"/>
<polygon points="177.22,337.78 181.12,345.00 173.32,345.00" fill="#000"/>
<rect x="173.82" y="338.28" width="6.80" height="6.80" fill="#000"/>
<circle cx="177.22" cy="341.68" r="3.5" fill="#000"/>
<polygon points="196.06,335.64 199.96,342.85 192.16,342.85" fill="#000"/>
<rect x="192.66" y="334.26" width="6.80" height="6.80" fill="#000"/>
<circle cx="196.06" cy="344.37" r="3.5" fill="#000"/>
<polygon points="214.90,335.90 218.80,343.12 211.00,343.12" fill="#000"/>
<rect x="211.50" y="333.58" width="6.80" height="6.80" fill="#000"/>
<circle cx="214.90" cy="345.98" r="3.5" fill="#000"/>
<polygon points="233.74,335.10 237.64,342.31 229.84,342.31" fill="#000"/>
<rect x="230.34" y="331.90" width="6.80" height="6.80" fill="#000"/>
<circle cx="233.74" cy="347.86" r="3.5" fill="#000"/>
<polygon points="252.58,334.29 256.48,341.51 248.68,341.51" fill="#000"/>
<rect x="249.18" y="327.54" width="6.80" height="6.80" fill="#000"/>
<circle cx="252.58" cy="349.41" r="3.5" fill="#000"/>
<polygon points="271.42,334.29 275.32,341.51 267.52,341.51" fill="#000"/>
<rect x="268.02" y="321.50" width="6.80" height="6.80" fill="#000"/>
<circle cx="271.42" cy="349.88" r="3.5" fill="#000"/>
<polygon points="290.26,332.61 294.16,339.83 286.36,339.83" fill="#000"/>
<rect x="286.86" y="319.08" width="6.80" height="6.80" fill="#000"/>
<circle cx="290.26" cy="349.88" r="3.5" fill="#000"/>
<polygon points="309.10,328.92 313.00,336.14 305.20,336.14" fill="#000"/>
<rect x="305.70" y="312.23" width="6.80" height="6.80" fill="#000"/>
<circle cx="309.10" cy="349.67" r="3.5" fill="#000"/>
<polygon points="327.94,327.78 331.84,334.99 324.04,334.99" fill="#000"/>
<rect x="324.54" y="306.59" width="6.80" height="6.80" fill="#000"/>
<circle cx="327.94" cy="349.34" r="3.5" fill="#000"/>
<polygon points="346.78,321.13 350.68,328.35 342.88,328.35" fill="#000"/>
<rect x="343.38" y="301.15" width="6.80" height="6.80" fill="#000"/>
<circle cx="346.78" cy="349.34" r="3.5" fill="#000"/>
<polygon points="365.62,315.49 369.52,322.71 361.72,322.71" fill="#000"/>
<rect x="362.22" y="289.40" width="6.80" height="6.80" fill="#000"/>
<circle cx="365.62" cy="349.34" r="3.5" fill="#000"/>
<polygon points="384.46,311.13 388.36,318.34 380.56,318.34" fill="#000"/>
<rect x="381.06" y="274.76" width="6.80" height="6.80" fill="#000"/>
<circle cx="384.46" cy="349.54" r="3.5" fill="#000"/>
<polygon points="403.30,307.43 407.20,314.65 399.40,314.65" fill="#000"/>
<rect x="399.90" y="258.58" width="6.80" height="6.80" fill="#000"/>
<circle cx="403.30" cy="347.86" r="3.5" fill="#000"/>
<line x1="195.20" y1="233.30" x2="209.30" y2="233.30" stroke="#000" stroke-width="1.7"/>
<text x="210.50" y="236.60" font-size="9.3" text-anchor="start" textLength="54.60" lengthAdjust="spacingAndGlyphs" fill="#0a0a0a" stroke="#0a0a0a" stroke-width="0.22">Vehicle (n=8)</text>
<line x1="195.20" y1="249.50" x2="209.30" y2="249.50" stroke="#000" stroke-width="1.7"/>
<text x="210.50" y="252.80" font-size="9.3" text-anchor="start" textLength="65.70" lengthAdjust="spacingAndGlyphs" fill="#0a0a0a" stroke="#0a0a0a" stroke-width="0.22">Pyrvinium (n=8)</text>
<line x1="195.20" y1="265.70" x2="209.30" y2="265.70" stroke="#000" stroke-width="1.7"/>
<text x="210.50" y="269.00" font-size="9.3" text-anchor="start" textLength="68.30" lengthAdjust="spacingAndGlyphs" fill="#0a0a0a" stroke="#0a0a0a" stroke-width="0.22">Dasatinib (n=10)</text>
<line x1="195.20" y1="281.90" x2="209.30" y2="281.90" stroke="#000" stroke-width="1.7"/>
<text x="210.50" y="285.20" font-size="9.3" text-anchor="start" textLength="83.00" lengthAdjust="spacingAndGlyphs" fill="#0a0a0a" stroke="#0a0a0a" stroke-width="0.22">Combination (n=10)</text>
<rect x="199.30" y="230.30" width="6.00" height="6.00" fill="#000"/>
<polygon points="202.30,262.30 205.70,268.59 198.90,268.59" fill="#000"/>
<circle cx="202.30" cy="281.90" r="3.1" fill="#000"/>
<text x="133.20" y="291.20" font-size="9.0" text-anchor="middle" font-weight="700" textLength="73.50" lengthAdjust="spacingAndGlyphs" transform="rotate(-90 133.20 291.20)" fill="#0a0a0a">Tumor size (mm3)</text>
<text x="290.30" y="389.00" font-size="9.3" text-anchor="middle" font-weight="700" textLength="109.50" lengthAdjust="spacingAndGlyphs" fill="#0a0a0a">Days after drug treatment</text>
<text x="392.70" y="290.60" font-size="12" text-anchor="middle" font-weight="700" fill="#0a0a0a">*</text>
<text x="373.80" y="308.80" font-size="12" text-anchor="middle" font-weight="700" fill="#0a0a0a">*</text>
<text x="355.90" y="312.20" font-size="12" text-anchor="middle" font-weight="700" fill="#0a0a0a">*</text>
<text x="284.00" y="353.60" font-size="12" text-anchor="middle" font-weight="700" fill="#0a0a0a">*</text>
<text x="301.00" y="352.10" font-size="12" text-anchor="middle" font-weight="700" fill="#0a0a0a">*</text>
<text x="319.20" y="350.00" font-size="12" text-anchor="middle" font-weight="700" fill="#0a0a0a">*</text>
<text x="338.00" y="349.70" font-size="12" text-anchor="middle" font-weight="700" fill="#0a0a0a">*</text>
<text x="355.90" y="348.00" font-size="12" text-anchor="middle" font-weight="700" fill="#0a0a0a">*</text>
<text x="375.10" y="349.70" font-size="12" text-anchor="middle" font-weight="700" fill="#0a0a0a">*</text>
<text x="389.70" y="348.00" font-size="12" text-anchor="middle" font-weight="700" fill="#0a0a0a">*</text>
</g>
</svg>
</body>
</html>
